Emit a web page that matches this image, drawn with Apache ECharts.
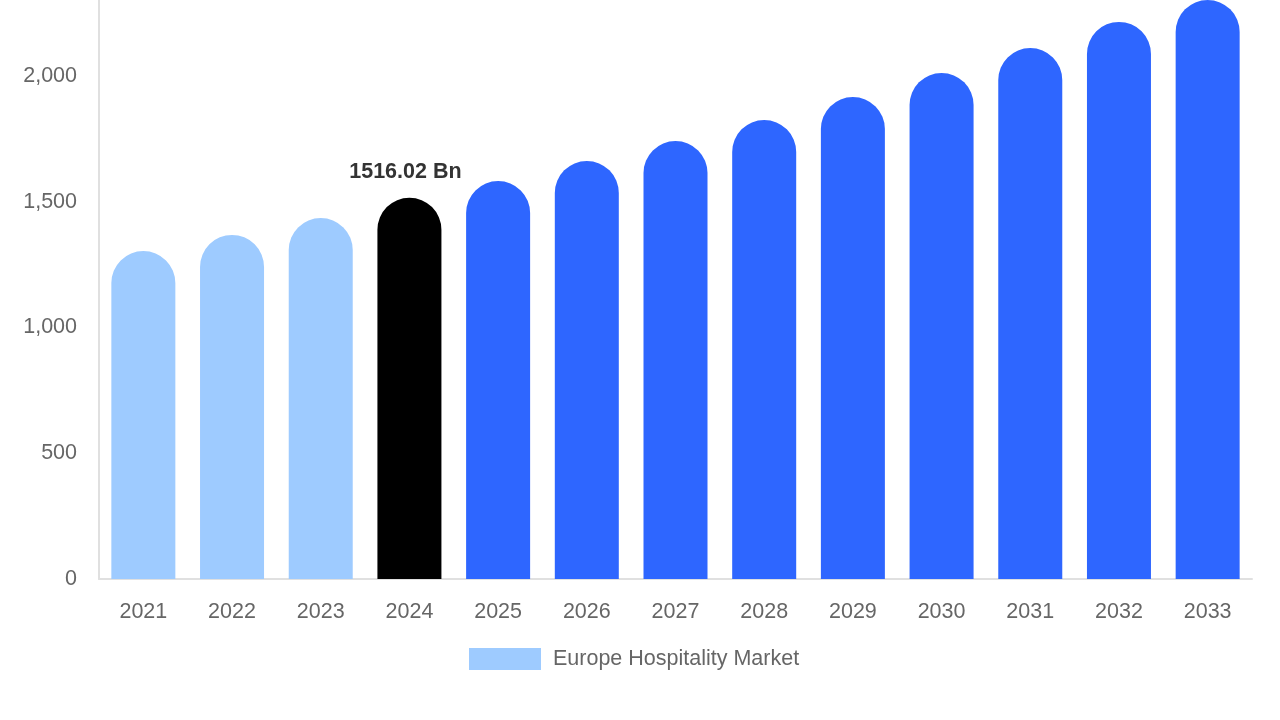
<!DOCTYPE html>
<html>
<head>
<meta charset="utf-8">
<script src="https://cdn.jsdelivr.net/npm/echarts@6/dist/echarts.min.js"></script>
<style>html,body{margin:0;padding:0;background:#fff}#c{width:1280px;height:720px}</style>
</head>
<body>
<div id="c"></div>
<script>
const years = ['2021','2022','2023','2024','2025','2026','2027','2028','2029','2030','2031','2032','2033'];
const values = [1304, 1368, 1435, 1516.02, 1582, 1662, 1741, 1825, 1916, 2012, 2111, 2215, 2310];
const barColors = ['#9ECBFF','#9ECBFF','#9ECBFF','#000000','#2E66FF','#2E66FF','#2E66FF','#2E66FF','#2E66FF','#2E66FF','#2E66FF','#2E66FF','#2E66FF'];
const highlightIndex = 3;
const seriesName = 'Europe Hospitality Market';

const chart = echarts.init(document.getElementById('c'), null, {renderer: 'canvas'});
chart.setOption({
  animation: false,
  textStyle: {fontFamily: 'Liberation Sans, Arial, sans-serif'},
  grid: {left: 99, right: 28, top: 0, bottom: 141, containLabel: false},
  legend: {
    bottom: 45, left: 464,
    itemWidth: 72, itemHeight: 22, itemGap: 10,
    icon: 'rect',
    textStyle: {fontSize: 21.5, color: '#666', padding: [0, 0, 0, 7]},
    data: [{name: seriesName, itemStyle: {color: '#9ECBFF'}}]
  },
  xAxis: {
    type: 'category', data: years,
    axisLine: {lineStyle: {color: '#e0e0e0', width: 2}},
    axisTick: {show: false},
    axisLabel: {fontSize: 21.5, color: '#666', margin: 22}
  },
  yAxis: {
    type: 'value', min: 0, max: 2302, interval: 500,
    axisLine: {show: true, lineStyle: {color: '#e0e0e0', width: 2}},
    axisTick: {show: false},
    splitLine: {show: false},
    axisLabel: {fontSize: 21.5, color: '#666', margin: 22, showMaxLabel: false,
      formatter: v => v.toLocaleString('en-US')}
  },
  series: [{
    name: seriesName, type: 'bar', barWidth: 64, clip: true,
    data: values.map((v, i) => ({
      value: v,
      itemStyle: {color: barColors[i], borderRadius: [32, 32, 0, 0]},
      label: i === highlightIndex ? {
        show: true, position: 'top', distance: 15, offset: [-4, 0],
        formatter: p => p.value + ' Bn',
        fontSize: 21.5, fontWeight: 'bold', color: '#333'
      } : {show: false}
    }))
  }]
});
</script>
</body>
</html>
